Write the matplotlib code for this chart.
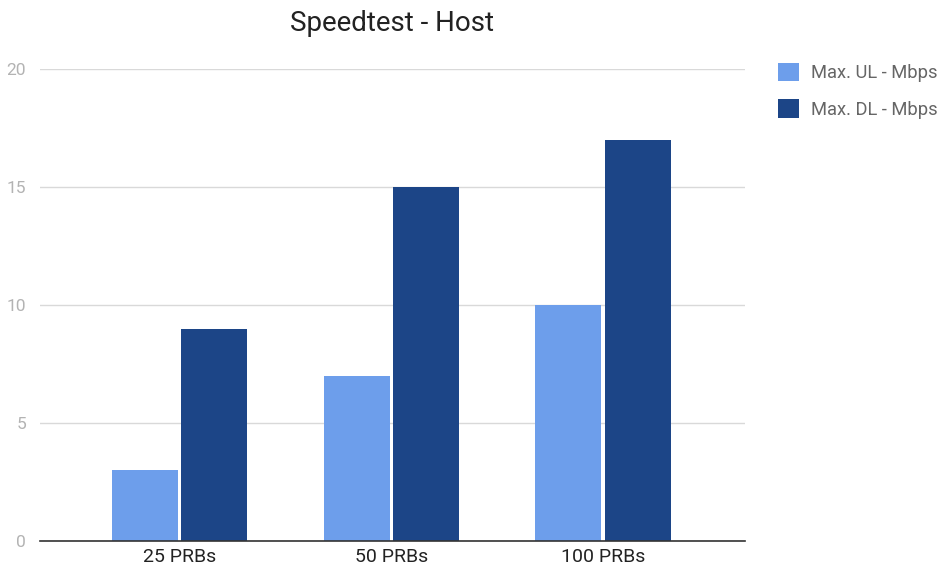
import numpy as np
import matplotlib.pyplot as plt

# Speedtest results per PRB configuration
categories = ['25 PRBs', '50 PRBs', '100 PRBs']
max_ul = [3, 7, 10]
max_dl = [9, 15, 17]

plt.rcParams['font.family'] = ['Roboto', 'DejaVu Sans']

fig = plt.figure(figsize=(9.43, 5.70), dpi=100)
ax = fig.add_axes([0.0424, 0.0509, 0.7476, 0.828])

x = np.arange(len(categories))
w = 0.312
off = 0.164

ax.bar(x - off, max_ul, width=w, color='#6d9eeb', label='Max. UL - Mbps', zorder=3)
ax.bar(x + off, max_dl, width=w, color='#1c4587', label='Max. DL - Mbps', zorder=3)

ax.set_xlim(-0.66, 2.67)
ax.set_ylim(0, 20)
ax.set_yticks([0, 5, 10, 15, 20])
ax.set_xticks(x)
ax.set_xticklabels(categories, fontsize=14, color='#222222')
ax.tick_params(axis='y', length=0, labelsize=12.5, labelcolor='#b3b3b3', pad=10)
ax.tick_params(axis='x', length=0, pad=5)

ax.grid(axis='y', color='#d9d9d9', linewidth=1, zorder=0)
for s in ['top', 'right', 'left']:
    ax.spines[s].set_visible(False)
ax.spines['bottom'].set_color('#333333')
ax.spines['bottom'].set_linewidth(1.2)
ax.spines['bottom'].set_zorder(4)

fig.text(0.416, 0.958, 'Speedtest - Host', ha='center', va='center',
         fontsize=20, color='#222222')

leg = ax.legend(loc='upper left', bbox_to_anchor=(0.825, 0.89),
                bbox_transform=fig.transFigure, frameon=False,
                fontsize=13.2, labelcolor='#666666', handlelength=1.15,
                handleheight=1.15, handletextpad=0.65, labelspacing=0.95,
                borderaxespad=0, borderpad=0)

fig.savefig('out.png', dpi=100)
